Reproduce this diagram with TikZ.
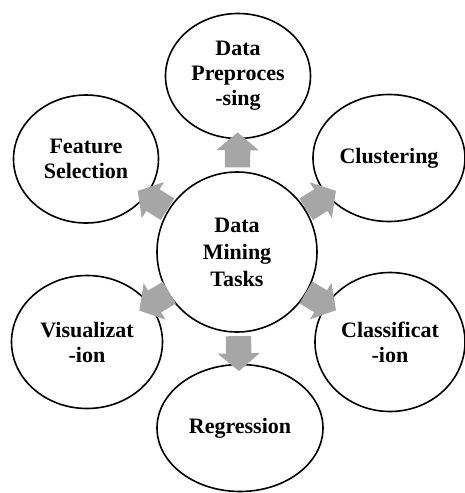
\documentclass[tikz,border=0pt]{standalone}
\usepackage{fontspec}
\setmainfont{Liberation Serif}
\usetikzlibrary{shapes.geometric, shapes.arrows}
\definecolor{arrowgray}{HTML}{A6A6A6}

\begin{document}
\begin{tikzpicture}[
    x=1pt, y=1pt,
    task/.style={ellipse, draw, line width=1.6pt, inner sep=0pt, align=center, font=\bfseries\fontsize{22}{25}\selectfont},
    hub/.style={circle, draw, line width=1.6pt, minimum size=160pt, align=center, font=\bfseries\fontsize{22}{27}\selectfont},
    blockarrow/.style={single arrow, fill=arrowgray, inner xsep=0pt, inner ysep=12.5pt, minimum height=35pt, single arrow head extend=8.5pt, single arrow tip angle=100, sloped, allow upside down}
]
\useasboundingbox (-237,-241) rectangle (228,252);
\node[hub] (dm) at (0,0) {Data\\Mining\\Tasks};
\node[task, minimum width=145pt, minimum height=125pt] (pre) at (1,176) {Data\\Preproces\\-sing};
\node[task, minimum width=152pt, minimum height=127pt] (clu) at (152,94) {Clustering};
\node[task, minimum width=150pt, minimum height=139pt] (cla) at (153,-90) {Classificat\\-ion};
\node[task, minimum width=166pt, minimum height=127pt] (reg) at (3,-176) {Regression};
\node[task, minimum width=151pt, minimum height=133pt] (vis) at (-150,-90) {Visualizat\\-ion};
\node[task, minimum width=145pt, minimum height=128pt] (fea) at (-151,93) {Feature\\Selection};
\foreach \t in {pre,clu,cla,reg,vis,fea}
    \path (dm) -- (\t) node[midway, blockarrow] {};
\end{tikzpicture}
\end{document}
